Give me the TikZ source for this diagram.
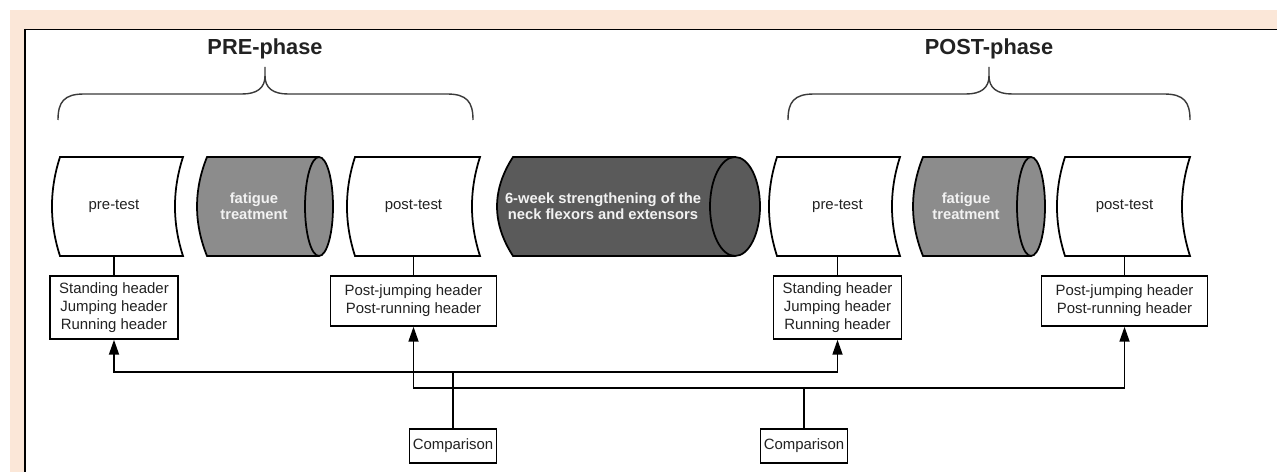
\documentclass[tikz,border=0pt]{standalone}
\usepackage{fontspec}
\setmainfont{Liberation Sans}
\usetikzlibrary{arrows.meta}
\definecolor{peach}{HTML}{FBE7D8}
\definecolor{fatiguegray}{HTML}{8C8C8C}
\definecolor{darkcyl}{HTML}{5A5A5A}
\definecolor{bracegray}{HTML}{3A3A3A}
\definecolor{cyltxt}{HTML}{F2F2F2}
\definecolor{bodytxt}{HTML}{222222}
\tikzset{
  shapeline/.style={draw=black, line width=1pt},
  bracestyle/.style={draw=bracegray, line width=0.8pt},
  titletext/.style={text=bodytxt, font=\bfseries\fontsize{12.4}{14}\selectfont, anchor=base, inner sep=0pt},
  cyltext/.style={text=bodytxt, minimum height=1.98cm, inner sep=0pt, align=center, font=\fontsize{8.5}{9.2}\selectfont},
  cyldark/.style={cyltext, text=cyltxt, font=\bfseries\fontsize{8.4}{9.2}\selectfont},
  hbox/.style={draw=black, text=bodytxt, line width=1pt, fill=white, anchor=north, align=center, inner sep=0pt, font=\fontsize{8.5}{10.2}\selectfont},
  tallbox/.style={hbox, minimum width=2.56cm, minimum height=1.26cm},
  widebox/.style={hbox, minimum width=3.32cm, minimum height=1.0cm},
  cmpbox/.style={hbox, minimum width=1.74cm, minimum height=0.68cm},
  conn/.style={draw=black, line width=1pt},
  arrowline/.style={conn, -{Triangle[length=0.3cm,width=0.2cm]}},
}
\newcommand\storagepath[2]{%
  \draw[shapeline, fill=white] (#1,157) -- (#2,157) .. controls ({#2-10.7},190) and ({#2-10.7},223) .. (#2,256) -- (#1,256) .. controls ({#1-10.7},223) and ({#1-10.7},190) .. (#1,157) -- cycle;}
\newcommand\cylpath[5]{%
  \fill[#4] (#1,157) -- (#2,157) -- (#2,256) -- (#1,256) .. controls ({#1-#5},223) and ({#1-#5},190) .. (#1,157) -- cycle;
  \draw[shapeline] (#2,157) -- (#1,157) .. controls ({#1-#5},190) and ({#1-#5},223) .. (#1,256) -- (#2,256);
  \draw[shapeline, fill=#4] (#2,206.5) ellipse ({#3} and 49.5);}
\begin{document}
\begin{tikzpicture}[x=0.02cm, y=-0.02cm]
\useasboundingbox (0,0) rectangle (1277,472);
% background and frame
\fill[white] (0,0) rectangle (1277,472);
\fill[peach] (10,10) rectangle (1277,472);
\fill[white] (25,29) rectangle (1277,472);
\draw[line width=0.6pt] (25,29.5) -- (1277,29.5);
\draw[line width=1.2pt] (25,29) -- (25,472);
% titles
\node[titletext] (pretitle) at (265,55) {PRE-phase};
\node[titletext] (posttitle) at (989,55) {POST-phase};
% braces
\draw[bracestyle] (58,120) .. controls (58,102) and (64,94) .. (84,94) -- (242,94) .. controls (257,94) and (265,88) .. (265,76) -- (265,67);
\draw[bracestyle] (473,120) .. controls (473,102) and (467,94) .. (447,94) -- (288,94) .. controls (273,94) and (265,88) .. (265,76);
\draw[bracestyle] (788,120) .. controls (788,102) and (794,94) .. (814,94) -- (966,94) .. controls (981,94) and (989,88) .. (989,76) -- (989,67);
\draw[bracestyle] (1190,120) .. controls (1190,102) and (1184,94) .. (1164,94) -- (1012,94) .. controls (997,94) and (989,88) .. (989,76);
% shapes
\storagepath{60}{183}
\cylpath{207}{319}{14}{fatiguegray}{13.3}
\storagepath{355}{480}
\cylpath{513}{735}{25}{darkcyl}{21.3}
\storagepath{777}{900}
\cylpath{923}{1031}{14}{fatiguegray}{13.3}
\storagepath{1065}{1190}
% cylinder texts
\node[cyltext] (pre1) at (114,206.5) {pre-test};
\node[cyldark] (fat1) at (254,206.5) {fatigue\\treatment};
\node[cyltext] (post1) at (413.5,206.5) {post-test};
\node[cyldark] (neck) at (603,206.5) {6-week strengthening of the\\neck flexors and extensors};
\node[cyltext] (pre2) at (837.5,206.5) {pre-test};
\node[cyldark] (fat2) at (966,206.5) {fatigue\\treatment};
\node[cyltext] (post2) at (1124.5,206.5) {post-test};
% header boxes
\node[tallbox] (b1) at (114,275) {Standing header\\Jumping header\\Running header};
\node[widebox] (b2) at (413.5,275) {Post-jumping header\\Post-running header};
\node[tallbox] (b3) at (837.5,275) {Standing header\\Jumping header\\Running header};
\node[widebox] (b4) at (1124.5,275) {Post-jumping header\\Post-running header};
\draw[conn] (pre1.south) -- (b1.north);
\draw[conn] (post1.south) -- (b2.north);
\draw[conn] (pre2.south) -- (b3.north);
\draw[conn] (post2.south) -- (b4.north);
% comparison boxes
\node[cmpbox] (cmp1) at (453,428) {Comparison};
\node[cmpbox] (cmp2) at (804,428) {Comparison};
\coordinate (j1) at (453,372);
\coordinate (j2) at (804,388);
\draw[arrowline] (j1) -| (b1.south);
\draw[arrowline] (j1) -| (b3.south);
\draw[arrowline] (j2) -| (b2.south);
\draw[arrowline] (j2) -| (b4.south);
\draw[conn] (cmp1.north) -- (j1);
\draw[conn] (cmp2.north) -- (j2);
\end{tikzpicture}
\end{document}
